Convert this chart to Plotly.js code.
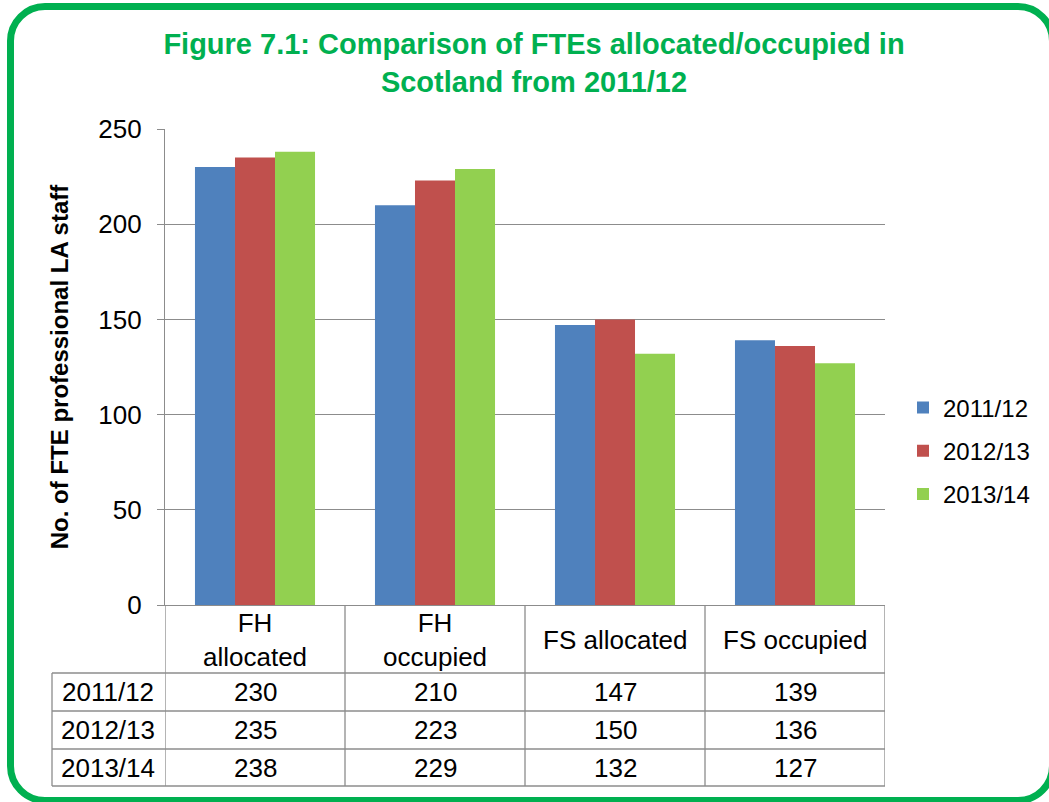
<!DOCTYPE html>
<html>
<head>
<meta charset="utf-8">
<script src="https://cdn.plot.ly/plotly-3.0.1.min.js"></script>
<style>
  html, body { margin: 0; padding: 0; overflow: hidden; background: #fff; }
  #wrap { position: relative; width: 1049px; height: 802px; }
  #chart { position: absolute; left: 0; top: 0; width: 1049px; height: 802px; }
  #frame { position: absolute; left: 7px; top: 3px; width: 1049px; height: 801px;
           box-sizing: border-box; border: 7px solid #00B050; border-radius: 38px;
           pointer-events: none; }
</style>
</head>
<body>
<div id="wrap"><div id="chart"></div><div id="frame"></div></div>
<script>
// ---- data ----
var categories = ['FH allocated', 'FH occupied', 'FS allocated', 'FS occupied'];
var headerLabels = ['FH<br>allocated', 'FH<br>occupied', 'FS allocated', 'FS occupied'];
var seriesNames = ['2011/12', '2012/13', '2013/14'];
var values2011 = [230, 210, 147, 139];
var values2012 = [235, 223, 150, 136];
var values2013 = [238, 229, 132, 127];
var colors = ['#4F81BD', '#C0504D', '#92D050'];

var seriesValues = [values2011, values2012, values2013];
var FONT = 'Liberation Sans, Arial, sans-serif';
var GRID = '#8c8c8c';
var TABLE_FONT = 26;

// pixel -> paper helpers (plot area: x 165..885, y 129..605)
var L = 165, R = 164, T = 129, B = 197, W = 1049 - L - R, H = 802 - T - B;
function px(x) { return (x - L) / W; }
function py(y) { return (T + H - y) / H; }

var traces = seriesValues.map(function (vals, i) {
  return {
    type: 'bar', name: seriesNames[i], x: categories, y: vals,
    marker: { color: colors[i] }, legendgroup: 'g' + i,
    hoverinfo: 'x+y+name'
  };
});

var rowLines = [673, 711, 749, 786];
var rowCenters = [692, 730, 768];
var shapes = [];
// vertical category separators through table
for (var k = 0; k <= categories.length; k++) {
  shapes.push({ type: 'line', xref: 'x', yref: 'paper', x0: k - 0.5, x1: k - 0.5,
    y0: 0, y1: py(786), line: { color: GRID, width: 1.3 } });
}
// horizontal row lines
rowLines.forEach(function (yy) {
  shapes.push({ type: 'line', xref: 'paper', yref: 'paper', x0: px(52), x1: 1,
    y0: py(yy), y1: py(yy), line: { color: GRID, width: 1.3 } });
});
// left edge of row-header column
shapes.push({ type: 'line', xref: 'paper', yref: 'paper', x0: px(52), x1: px(52),
  y0: py(673), y1: py(786), line: { color: GRID, width: 1.3 } });

var annotations = [];
headerLabels.forEach(function (lab, i) {
  annotations.push({ xref: 'x', yref: 'paper', x: categories[i], y: py(640),
    text: lab, showarrow: false, font: { family: FONT, size: TABLE_FONT, color: '#000' },
    xanchor: 'center', yanchor: 'middle' });
});
seriesValues.forEach(function (vals, r) {
  annotations.push({ xref: 'paper', yref: 'paper', x: px(108), y: py(rowCenters[r]),
    text: seriesNames[r], showarrow: false, font: { family: FONT, size: TABLE_FONT, color: '#000' },
    xanchor: 'center', yanchor: 'middle' });
  vals.forEach(function (v, i) {
    annotations.push({ xref: 'x', yref: 'paper', x: categories[i], y: py(rowCenters[r]),
      text: String(v), showarrow: false, font: { family: FONT, size: TABLE_FONT, color: '#000' },
      xanchor: 'center', yanchor: 'middle' });
  });
});

var layout = {
  width: 1049, height: 802,
  margin: { l: L, r: R, t: T, b: B, autoexpand: false },
  paper_bgcolor: 'rgba(0,0,0,0)', plot_bgcolor: '#fff',
  font: { family: FONT, color: '#000' },
  title: {
    text: '<b>Figure 7.1: Comparison of FTEs allocated/occupied in<br>Scotland from 2011/12</b>',
    font: { family: FONT, size: 29, color: '#00B050' },
    xref: 'container', x: 534 / 1049, xanchor: 'center',
    yref: 'container', y: 1 - 54 / 802, yanchor: 'top'
  },
  barmode: 'group', bargap: 0.333, bargroupgap: 0,
  xaxis: {
    type: 'category', range: [-0.5, 3.5], showticklabels: false,
    showline: true, linecolor: GRID, linewidth: 1.3, ticks: '', showgrid: false,
    fixedrange: true
  },
  yaxis: {
    range: [0, 250], dtick: 50, tick0: 0,
    showgrid: true, gridcolor: GRID, gridwidth: 1.3,
    showline: true, linecolor: GRID, linewidth: 1.3,
    ticks: 'outside', ticklen: 7, tickcolor: GRID, tickwidth: 1.3,
    ticklabelstandoff: 10,
    tickfont: { family: FONT, size: 26, color: '#000' },
    zeroline: false,
    title: { text: '<b>No. of FTE professional LA staff</b>', font: { family: FONT, size: 24, color: '#000' }, standoff: 22 },
    fixedrange: true
  },
  showlegend: true,
  legend: {
    x: px(903), xanchor: 'left', y: py(451), yanchor: 'middle',
    font: { family: FONT, size: 24, color: '#000' },
    traceorder: 'grouped', tracegroupgap: 9, itemwidth: 30,
    bgcolor: 'rgba(0,0,0,0)'
  },
  shapes: shapes,
  annotations: annotations
};

Plotly.newPlot('chart', traces, layout, { displayModeBar: false, responsive: false });
</script>
</body>
</html>
